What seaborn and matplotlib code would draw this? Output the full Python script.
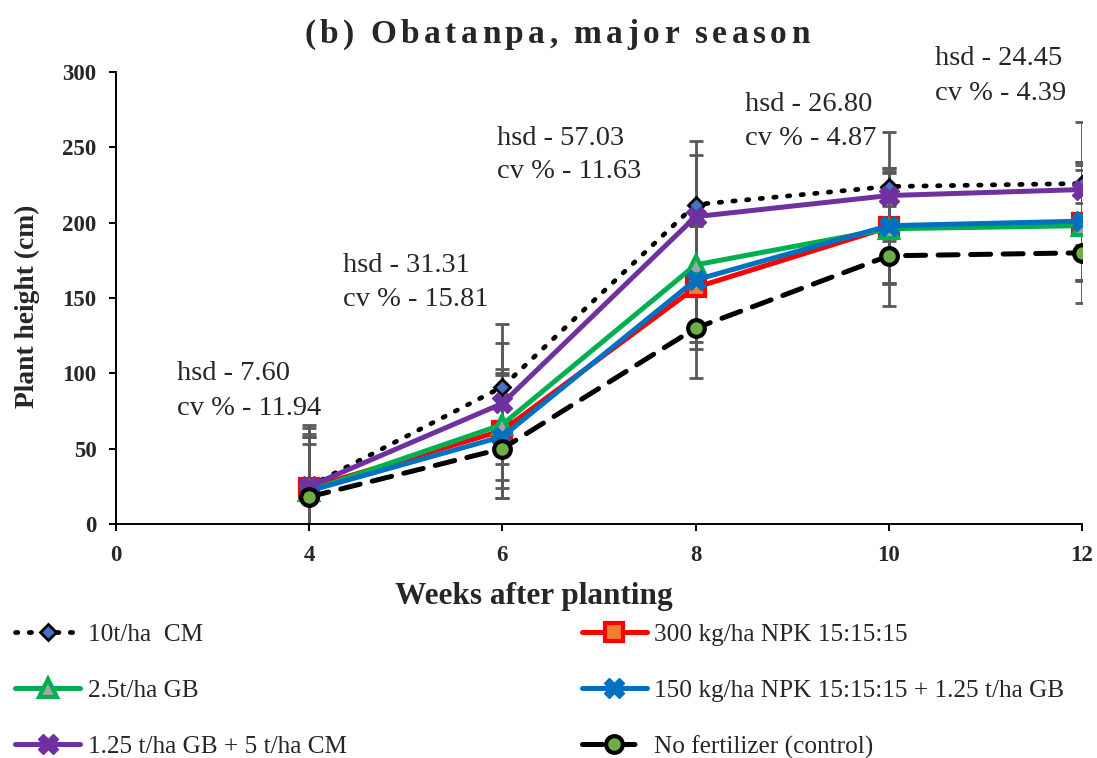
import matplotlib
matplotlib.use("Agg")
import matplotlib.pyplot as plt
import seaborn as sns
import pandas as pd
import numpy as np

sns.set_theme(style="white")
plt.rcParams["font.family"] = ["Liberation Serif", "DejaVu Serif"]

# category axis (evenly spaced week labels)
axis_weeks = [0, 4, 6, 8, 10, 12]
weeks = [4, 6, 8, 10, 12]

series_names = [
    "10t/ha  CM",
    "300 kg/ha NPK 15:15:15",
    "2.5t/ha GB",
    "150 kg/ha NPK 15:15:15 + 1.25 t/ha GB",
    "1.25 t/ha GB + 5 t/ha CM",
    "No fertilizer (control)",
]

cm_10 = [25, 91, 212, 224, 226]
npk_300 = [24, 62, 157, 197, 200]
gb_25 = [22, 66, 172, 196, 198]
npk_gb = [22, 58, 162, 198, 201]
gb_cm = [25, 80, 204, 218, 222]
control = [18, 50, 130, 178, 180]

cm_10_err = [41, 42, 42, 36, 41]
npk_300_err = [40, 38, 41, 37, 38]
gb_25_err = [36, 37, 41, 37, 37]
npk_gb_err = [36, 41, 41, 38, 39]
gb_cm_err = [35, 40, 41, 18, 18]
control_err = [35, 33, 33, 33, 33]

hsd_labels = ["hsd - 7.60", "hsd - 31.31", "hsd - 57.03", "hsd - 26.80", "hsd - 24.45"]
cv_labels = ["cv % - 11.94", "cv % - 15.81", "cv % - 11.63", "cv % - 4.87", "cv % - 4.39"]

title = "(b) Obatanpa, major season"

values = [cm_10, npk_300, gb_25, npk_gb, gb_cm, control]
errors = [cm_10_err, npk_300_err, gb_25_err, npk_gb_err, gb_cm_err, control_err]

styles = [
    dict(color="black", ls=(0, (0.5, 2.4)), lw=3.4, marker="D", ms=8, mfc="#4472C4", mec="black", mew=2),
    dict(color="#FF0000", ls="-", lw=3.6, marker="s", ms=13, mfc="#ED7D31", mec="#FF0000", mew=3),
    dict(color="#00B050", ls="-", lw=3.6, marker="^", ms=13, mfc="#A5A5A5", mec="#00B050", mew=3),
    dict(color="#0070C0", ls="-", lw=3.6, marker="X", ms=15, mfc="#0070C0", mec="#0070C0", mew=1),
    dict(color="#7030A0", ls="-", lw=3.6, marker="X", ms=15, mfc="#7030A0", mec="#7030A0", mew=1),
    dict(color="black", ls=(0, (4, 2.5)), lw=3.6, marker="o", ms=12, mfc="#70AD47", mec="black", mew=3),
]

x_pos = [axis_weeks.index(w) for w in weeks]

rows = []
for name, vals in zip(series_names, values):
    for xp, v in zip(x_pos, vals):
        rows.append({"pos": xp, "height": v, "treatment": name})
df = pd.DataFrame(rows)

fig = plt.figure(figsize=(10.97, 7.58), dpi=100)
ax = fig.add_axes([0.1057, 0.3087, 0.8806, 0.5963])

# error bars sit behind the lines
for vals, errs in zip(values, errors):
    ax.errorbar(x_pos, vals, yerr=errs, fmt="none", ecolor="#595959",
                elinewidth=2, capsize=5, capthick=2, zorder=1)

handles = []
for name, st in zip(series_names, styles):
    sub = df[df["treatment"] == name]
    sns.lineplot(data=sub, x="pos", y="height", ax=ax,
                 color=st["color"], linewidth=st["lw"], marker=st["marker"],
                 markersize=st["ms"], markerfacecolor=st["mfc"],
                 markeredgecolor=st["mec"], markeredgewidth=st["mew"],
                 zorder=3, legend=False)
    line = ax.lines[-1]
    line.set_linestyle(st["ls"])
    line.set_dash_capstyle("round")
    handles.append(line)

ax.set_xlim(0, len(axis_weeks) - 1)
ax.set_ylim(0, 300)
ax.set_xticks(range(len(axis_weeks)))
ax.set_xticklabels([str(w) for w in axis_weeks])
ax.set_yticks(range(0, 301, 50))
for s in ["top", "right"]:
    ax.spines[s].set_visible(False)
for s in ["left", "bottom"]:
    ax.spines[s].set_color("black")
    ax.spines[s].set_linewidth(1.4)
ax.tick_params(axis="both", direction="out", length=5, width=1.4, color="black",
               labelsize=16.5, bottom=True, left=True)
ax.tick_params(axis="x", pad=10)
ax.tick_params(axis="y", pad=9)
for lab in ax.get_xticklabels() + ax.get_yticklabels():
    lab.set_fontweight("bold")

ax.set_xlabel("Weeks after planting", fontsize=22.5, fontweight="bold")
ax.xaxis.set_label_coords(0.433, -0.128)
ax.set_ylabel("Plant height (cm)", fontsize=19.8, fontweight="bold")
ax.yaxis.set_label_coords(-0.079, 0.481)

# letter-spaced title
fig.canvas.draw()
renderer = fig.canvas.get_renderer()
tracking = 4.5
chars = []
widths = []
for ch in title:
    t = fig.text(0, 0, ch, fontsize=24, fontweight="bold", va="baseline", ha="left")
    bb = t.get_window_extent(renderer=renderer)
    w = bb.width if ch != " " else 7
    chars.append(t)
    widths.append(w)
total = sum(widths) + tracking * (len(title) - 1)
x0 = 557 - total / 2
for t, w in zip(chars, widths):
    t.set_position((x0 / fig.bbox.width, 1 - 43 / fig.bbox.height))
    x0 += w + tracking

# hsd / cv annotations: (x, baseline of hsd line, baseline of cv line)
ann_pos = [(0.316, 95.6, 72.3), (1.175, 167.0, 145.0), (1.972, 251.5, 229.6),
           (3.256, 274.0, 251.5), (4.239, 304.6, 281.4)]
for (x, yh, yc), h, c in zip(ann_pos, hsd_labels, cv_labels):
    ax.text(x, yh, h, fontsize=20.5, ha="left", va="baseline", clip_on=False)
    ax.text(x, yc, c, fontsize=20.5, ha="left", va="baseline", clip_on=False)

order = [0, 2, 4, 1, 3, 5]
leg = fig.legend(handles=[handles[i] for i in order],
                 labels=[series_names[i] for i in order],
                 loc="center left", bbox_to_anchor=(0.0137, 0.0884),
                 ncol=2, frameon=False, fontsize=18.2, handlelength=2.57,
                 handletextpad=0.3, columnspacing=9.3, labelspacing=1.31,
                 borderpad=0, borderaxespad=0)

fig.savefig("out.png", dpi=100)
